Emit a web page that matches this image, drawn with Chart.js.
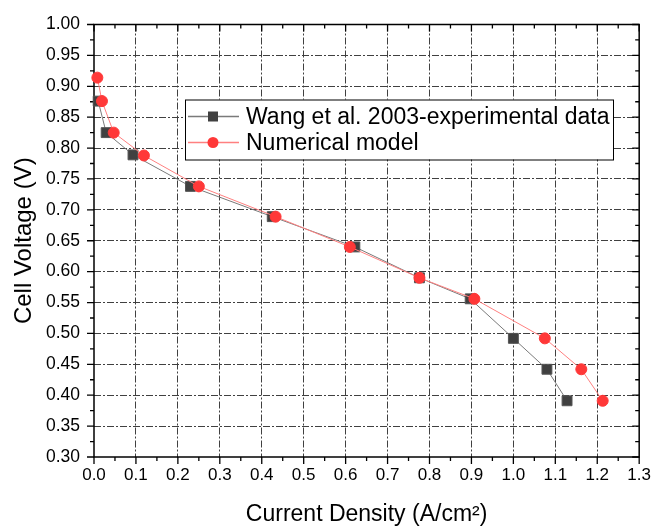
<!DOCTYPE html>
<html>
<head>
<meta charset="utf-8">
<script src="https://cdn.jsdelivr.net/npm/chart.js@4/dist/chart.umd.min.js"></script>
<style>
  html, body { margin: 0; padding: 0; background: #fff; }
  #wrap { width: 659px; height: 530px; }
</style>
</head>
<body>
<div id="wrap"><canvas id="c" width="659" height="530"></canvas></div>
<script>
// ---- data ----
const expName = "Wang et al. 2003-experimental data";
const expX = [0.010, 0.029, 0.093, 0.230, 0.425, 0.622, 0.776, 0.897, 1.000, 1.080, 1.128];
const expY = [0.876, 0.825, 0.789, 0.738, 0.689, 0.640, 0.590, 0.556, 0.492, 0.442, 0.391];

const modelName = "Numerical model";
const modelX = [0.008, 0.019, 0.047, 0.119, 0.250, 0.433, 0.610, 0.776, 0.907, 1.075, 1.162, 1.213];
const modelY = [0.914, 0.876, 0.825, 0.788, 0.738, 0.689, 0.640, 0.590, 0.556, 0.492, 0.442, 0.391];

const xTickValues = [0.0, 0.1, 0.2, 0.3, 0.4, 0.5, 0.6, 0.7, 0.8, 0.9, 1.0, 1.1, 1.2, 1.3];
const yTickValues = [0.30, 0.35, 0.40, 0.45, 0.50, 0.55, 0.60, 0.65, 0.70, 0.75, 0.80, 0.85, 0.90, 0.95, 1.00];

const xTitle = "Current Density (A/cm²)";
const yTitle = "Cell Voltage (V)";

// ---- build chart ----
const toPts = (xs, ys) => xs.map((x, i) => ({ x: x, y: ys[i] }));
const FONT = "'Liberation Sans', Arial, sans-serif";

const expDS = {
  label: expName,
  data: toPts(expX, expY),
  borderColor: '#7a7a7a',
  borderWidth: 1,
  backgroundColor: '#404040',
  pointBackgroundColor: '#404040',
  pointBorderColor: '#555555',
  pointBorderWidth: 1,
  pointStyle: 'rect',
  pointRadius: 7,
  showLine: true,
  tension: 0,
  clip: false,
  order: 1
};
const modelDS = {
  label: modelName,
  data: toPts(modelX, modelY),
  borderColor: '#ff8080',
  borderWidth: 1,
  backgroundColor: '#ff3838',
  pointBackgroundColor: '#ff3838',
  pointBorderColor: '#ff3838',
  pointBorderWidth: 1,
  pointStyle: 'circle',
  pointRadius: 5.5,
  showLine: true,
  tension: 0,
  clip: false,
  order: 0
};
const legendItems = [expDS, modelDS];

function setTicks(values) {
  return function (scale) { scale.ticks = values.map(v => ({ value: v })); };
}

// Frame with major/minor ticks (out on bottom/left, in on top/right)
const framePlugin = {
  id: 'frame',
  beforeDatasetsDraw(chart) {
    const { ctx, chartArea: a, scales } = chart;
    const xs = scales.x, ys = scales.y;
    ctx.save();
    ctx.setLineDash([]);
    ctx.strokeStyle = '#000';
    ctx.lineWidth = 1.5;
    ctx.strokeRect(a.left, a.top, a.right - a.left, a.bottom - a.top);
    ctx.lineWidth = 1.3;
    const maj = 7, min = 4;
    ctx.beginPath();
    for (let i = 0; i < xTickValues.length; i++) {
      const v = xTickValues[i];
      const px = xs.getPixelForValue(v);
      ctx.moveTo(px, a.bottom); ctx.lineTo(px, a.bottom + maj);
      ctx.moveTo(px, a.top); ctx.lineTo(px, a.top + maj);
      if (i < xTickValues.length - 1) {
        const pm = xs.getPixelForValue((v + xTickValues[i + 1]) / 2);
        ctx.moveTo(pm, a.bottom); ctx.lineTo(pm, a.bottom + min);
        ctx.moveTo(pm, a.top); ctx.lineTo(pm, a.top + min);
      }
    }
    for (let i = 0; i < yTickValues.length; i++) {
      const v = yTickValues[i];
      const py = ys.getPixelForValue(v);
      ctx.moveTo(a.left, py); ctx.lineTo(a.left - maj, py);
      ctx.moveTo(a.right, py); ctx.lineTo(a.right - maj, py);
      if (i < yTickValues.length - 1) {
        const pm = ys.getPixelForValue((v + yTickValues[i + 1]) / 2);
        ctx.moveTo(a.left, pm); ctx.lineTo(a.left - min, pm);
        ctx.moveTo(a.right, pm); ctx.lineTo(a.right - min, pm);
      }
    }
    ctx.stroke();
    ctx.restore();
  }
};

// Legend box inside the plot
const legendPlugin = {
  id: 'boxLegend',
  afterDraw(chart) {
    const { ctx, chartArea: a } = chart;
    const bx = a.left + 91, by = a.top + 75, bw = 428, bh = 60;
    ctx.save();
    ctx.setLineDash([]);
    ctx.fillStyle = '#fff';
    ctx.fillRect(bx, by, bw, bh);
    ctx.strokeStyle = '#000';
    ctx.lineWidth = 1;
    ctx.strokeRect(bx + 0.5, by + 0.5, bw, bh);
    const rows = [by + 17, by + 43];
    legendItems.forEach((ds, i) => {
      const y = rows[i];
      ctx.strokeStyle = ds.borderColor;
      ctx.lineWidth = 1.5;
      ctx.beginPath();
      ctx.moveTo(bx + 3, y); ctx.lineTo(bx + 54, y);
      ctx.stroke();
      ctx.fillStyle = ds.pointBackgroundColor;
      const mx = bx + 28;
      if (ds.pointStyle === 'rect') {
        ctx.fillRect(mx - 5, y - 5, 10, 10);
      } else {
        ctx.beginPath(); ctx.arc(mx, y, 5.5, 0, Math.PI * 2); ctx.fill();
      }
      ctx.fillStyle = '#000';
      ctx.font = "23px " + FONT;
      ctx.textBaseline = 'middle';
      ctx.textAlign = 'left';
      ctx.fillText(ds.label, bx + 61, y + 1);
    });
    ctx.restore();
  }
};

const gridCommon = {
  color: (c) => (c.tick && (c.index === 0 || c.index === c.scale.ticks.length - 1)) ? 'rgba(0,0,0,0)' : '#404040',
  lineWidth: 1,
  drawTicks: false
};

new Chart(document.getElementById('c'), {
  type: 'scatter',
  data: { datasets: [expDS, modelDS] },
  options: {
    responsive: false,
    animation: false,
    devicePixelRatio: 1,
    layout: { padding: { top: 20, right: 16, left: 0, bottom: 0 } },
    plugins: { legend: { display: false }, tooltip: { enabled: false } },
    scales: {
      x: {
        type: 'linear',
        min: 0, max: 1.3,
        afterBuildTicks: setTicks(xTickValues),
        afterFit: (s) => { s.height = 73; },
        grid: gridCommon,
        border: { display: false, dash: [7, 2, 2, 2] },
        ticks: {
          padding: 8,
          color: '#000',
          font: { family: FONT, size: 17 },
          callback: (v) => Number(v).toFixed(1),
          maxRotation: 0, autoSkip: false
        },
        title: {
          display: true, text: xTitle, color: '#000',
          font: { family: FONT, size: 23 },
          padding: { top: 0, bottom: 2 }
        }
      },
      y: {
        type: 'linear',
        min: 0.3, max: 1.0,
        afterBuildTicks: setTicks(yTickValues),
        afterFit: (s) => { s.width = 94; },
        grid: gridCommon,
        border: { display: false, dash: [7, 2, 2, 2] },
        ticks: {
          padding: 14,
          color: '#000',
          font: { family: FONT, size: 17.5 },
          callback: (v) => Number(v).toFixed(2),
          autoSkip: false
        },
        title: {
          display: true, text: yTitle, color: '#000',
          font: { family: FONT, size: 24 },
          padding: { top: 10, bottom: 0 }
        }
      }
    }
  },
  plugins: [framePlugin, legendPlugin]
});
</script>
</body>
</html>
